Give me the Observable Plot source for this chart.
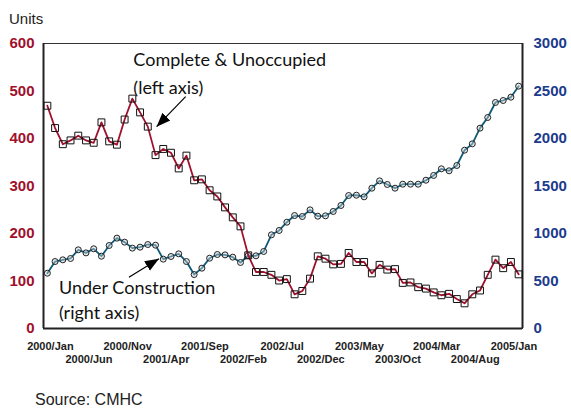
<!DOCTYPE html>
<html><head><meta charset="utf-8">
<script src="https://cdn.jsdelivr.net/npm/d3@7"></script>
<script src="https://cdn.jsdelivr.net/npm/@observablehq/plot@0.6"></script>
<style>
body{margin:0;background:#fff;}
#wrap{position:relative;width:571px;height:408px;overflow:hidden;}
#chart{position:absolute;left:0;top:0;}
#units{position:absolute;left:9px;top:11px;font:15px "Liberation Sans",Arial,sans-serif;line-height:15px;color:#222;}
#source{position:absolute;left:35px;top:392px;font:16px "Liberation Sans",Arial,sans-serif;line-height:16px;color:#222;}
</style></head>
<body>
<div id="wrap"><div id="chart"></div><div id="units">Units</div><div id="source">Source: CMHC</div></div>
<script>
// Monthly categories: 2000/Jan .. 2005/Feb (62 months)
const monthNames = ["Jan","Feb","Mar","Apr","May","Jun","Jul","Aug","Sep","Oct","Nov","Dec"];
const years = [2000, 2001, 2002, 2003, 2004, 2005];
const months = years.flatMap(y => monthNames.map(m => `${y}/${m}`)).slice(0, 62);

// Complete & Unoccupied (left axis, units)
const completeUnoccupied = [469,422,388,396,406,396,391,434,394,387,440,484,455,425,365,378,370,337,364,312,
  314,291,278,255,234,215,154,119,119,113,101,104,72,79,105,152,147,135,136,159,
  140,140,116,134,124,125,96,97,87,84,76,70,73,62,53,72,80,113,145,127,140,114];

// Under Construction (right axis, units)
const underConstruction = [582,705,723,737,828,796,839,761,874,951,909,846,856,884,877,730,758,786,705,568,
  635,740,779,775,751,695,768,765,811,986,1032,1119,1189,1179,1249,1182,1186,1232,1295,1400,
  1403,1386,1477,1554,1516,1477,1519,1519,1519,1561,1611,1681,1660,1716,1877,1944,2109,2221,2379,2400,2435,2551];

// Tick labels
const xTickLabels = ["2000/Jan","2000/Jun","2000/Nov","2001/Apr","2001/Sep","2002/Feb","2002/Jul",
  "2002/Dec","2003/May","2003/Oct","2004/Mar","2004/Aug","2005/Jan"];
const leftTicks = [0,100,200,300,400,500,600];
const rightTicks = [0,500,1000,1500,2000,2500,3000];

// Annotations (data coordinates: month index, left-axis units)
const noteTexts = ["Complete & Unoccupied","(left axis)","Under Construction","(right axis)"];
const noteX = [11.13, 11.13, 1.5, 1.5];
const noteY = [552, 493, 73, 20.5];
const arrowFrom = [[17.9, 488], [10.56, 108]];
const arrowTo = [[14.14, 425], [14.44, 147]];

const RATIO = 3000 / 600;
const RED = "#a0102c", BLUE = "#1b3b8c", TEAL = "#0d5a78";

const data = months.map((m, i) => ({i, m, complete: completeUnoccupied[i], under: underConstruction[i] / RATIO}));
const notes = noteTexts.map((t, k) => ({t, x: noteX[k], y: noteY[k]}));
const arrows = arrowFrom.map((f, k) => ({x1: f[0], y1: f[1], x2: arrowTo[k][0], y2: arrowTo[k][1]}));
const tickIdx = xTickLabels.map((_, k) => k * 5);

function filledArrow(color) {
  const ns = "http://www.w3.org/2000/svg";
  const m = document.createElementNS(ns, "marker");
  m.setAttribute("viewBox", "-14 -7 14 14");
  m.setAttribute("markerWidth", 14);
  m.setAttribute("markerHeight", 14);
  m.setAttribute("markerUnits", "userSpaceOnUse");
  m.setAttribute("refX", 0);
  m.setAttribute("refY", 0);
  m.setAttribute("orient", "auto");
  const p = document.createElementNS(ns, "path");
  p.setAttribute("d", "M-14,-5.5L0,0L-14,5.5Z");
  p.setAttribute("fill", color);
  p.setAttribute("stroke", "none");
  m.appendChild(p);
  return m;
}

function build(marker) {
  return Plot.plot({
    width: 571, height: 375,
    marginLeft: 43, marginRight: 49, marginTop: 43, marginBottom: 47,
    style: {fontFamily: "Liberation Sans, Arial, sans-serif", background: "white"},
    x: {domain: [-0.5, 61.5], axis: null},
    y: {domain: [0, 600], axis: null},
    marks: [
      Plot.frame({stroke: "#333", strokeWidth: 1}),
      Plot.ruleX([-0.5, 61.5], {stroke: "#222", strokeWidth: 2}),
      Plot.ruleY([0], {stroke: "#222", strokeWidth: 2}),
      Plot.axisY({ticks: leftTicks, tickSize: 0, tickPadding: 9, fill: RED, fontSize: 15, fontWeight: "bold", label: null}),
      Plot.axisY({anchor: "right", ticks: rightTicks.map(v => v / RATIO), tickFormat: d => String(Math.round(d * RATIO)),
        tickSize: 0, tickPadding: 11, fill: BLUE, fontSize: 15, fontWeight: "bold", label: null}),
      Plot.axisX({ticks: tickIdx.filter((_, k) => k % 2 === 0), tickFormat: i => xTickLabels[i / 5],
        tickSize: 0, tickPadding: 14, dx: 3, fill: "#222", fontSize: 11, fontWeight: "bold", label: null}),
      Plot.axisX({ticks: tickIdx.filter((_, k) => k % 2 === 1), tickFormat: i => xTickLabels[i / 5],
        tickSize: 0, tickPadding: 27, dx: 3, fill: "#222", fontSize: 11, fontWeight: "bold", label: null}),
      Plot.line(data, {x: "i", y: "under", stroke: TEAL, strokeWidth: 1.8}),
      Plot.dot(data, {x: "i", y: "under", r: 3, stroke: "#222", strokeWidth: 1, fill: "#c8d2d6", fillOpacity: 0.45}),
      Plot.line(data, {x: "i", y: "complete", stroke: RED, strokeWidth: 1.8}),
      Plot.dot(data, {x: "i", y: "complete", symbol: "square", r: 3.9, stroke: "#111", strokeWidth: 1, fill: "none"}),
      Plot.link(arrows, {x1: "x1", y1: "y1", x2: "x2", y2: "y2", stroke: "#000", strokeWidth: 1.2, markerEnd: marker}),
      Plot.text(notes, {x: "x", y: "y", text: "t", textAnchor: "start", lineAnchor: "bottom",
        fontFamily: "Lato, sans-serif", fontSize: 18, fill: "#111"})
    ]
  });
}

let chart;
try { chart = build(filledArrow); } catch (e) { chart = build("arrow"); }
document.getElementById("chart").appendChild(chart);
</script>
</body></html>
